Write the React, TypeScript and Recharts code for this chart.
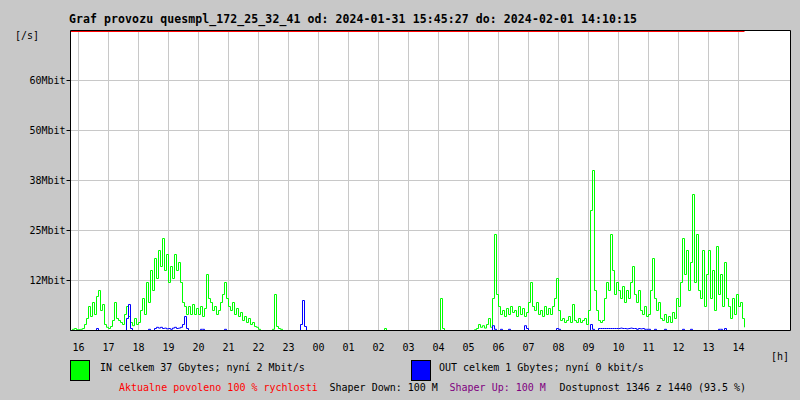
import React from "react";
import {
  LineChart,
  Line,
  XAxis,
  YAxis,
  CartesianGrid,
  ReferenceLine,
} from "recharts";

// one sample every 4 minutes from 15:45:27, values in Mbit/s
const SAMPLE_MINUTES = 4;

const IN_MBIT = [
  0, 0.3, 0.5, 0.2,
  0.2, 0.3, 0.5, 1.5, 3, 6, 3.5, 7, 4, 8.5, 10, 5, 6.5, 1.5, 0.8,
  0.5, 1, 2.5, 7, 3, 2.5, 2, 1.5, 4, 6, 3.5, 2, 1.2, 3, 1.5,
  2, 5, 8, 4, 12, 7, 15, 10, 18, 13, 20, 16, 23, 15, 19,
  12, 16, 13, 19, 15, 17, 12, 7, 6, 4, 6, 4, 6.5, 4, 5.5,
  4, 6, 3.5, 5.5, 14, 8, 7, 5, 6, 4, 5, 7, 9, 12, 8,
  6, 5, 7, 4, 5.5, 3.5, 4.5, 2.5, 3.5, 2, 3, 1.5, 2, 1, 0.8,
  0.3, 0, 0, 0, 0, 0, 0, 0.3, 9, 1, 0.5, 0.3, 0, 0, 0,
  0, 0, 0, 0, 0, 0, 0, 0, 0, 0, 0, 0, 0, 0, 0,
  0, 0, 0, 0, 0, 0, 0, 0, 0, 0, 0, 0, 0, 0, 0,
  0, 0, 0, 0, 0, 0, 0, 0, 0, 0, 0, 0, 0, 0, 0,
  0, 0, 0, 0.5, 0, 0, 0, 0, 0, 0, 0, 0, 0, 0, 0,
  0, 0, 0, 0, 0, 0, 0, 0, 0, 0, 0, 0, 0, 0, 0,
  0, 8, 0.5, 0, 0, 0, 0, 0, 0, 0, 0, 0, 0, 0, 0,
  0, 0, 0, 0.2, 0.5, 1.5, 0.8, 1.2, 0.6, 1.5, 3, 0.8, 8, 24, 9,
  6, 4, 5, 3.5, 5.5, 4, 6, 4.5, 5, 3.5, 6, 4, 5.5, 3.5, 4.5,
  7, 12, 6, 5, 7, 4, 5, 3.5, 6, 4, 5.5, 4, 6, 8, 13,
  5, 2.5, 3, 2, 2.5, 3.5, 2, 6.5, 2.5, 2, 3, 2, 2.5, 3, 1.5,
  5, 30, 40, 10, 5, 2.5, 2, 2.5, 8, 12, 10, 24, 15, 9, 12,
  10, 8, 11, 7, 10, 8, 12, 16, 9, 7, 10, 5, 4, 6, 3.5,
  4, 10, 18, 8, 5, 7, 3, 2.5, 4, 2, 3.5, 2, 4.5, 3, 8,
  6, 12, 23, 14, 20, 10, 17, 34, 12, 24, 10, 8, 20, 6, 14,
  20, 8, 15, 5, 21, 9, 14, 6, 17, 8, 6, 3, 8, 4, 9,
  6, 7, 3, 0.8,
];

const OUT_MBIT = [
  0, 0, 0, 0,
  0, 0, 0, 0, 0, 0, 0, 0, 0, 0.5, 0, 0, 0, 0, 0,
  0, 0, 0, 0, 0, 0, 0, 0, 0, 3, 6.5, 0.5, 0, 0, 0,
  0, 0, 0, 0, 0, 0.3, 0, 0, 0.5, 0.8, 0.6, 0.8, 0.5, 0.6, 0.4,
  0.5, 0.3, 0.6, 0.8, 0.5, 0.6, 0.8, 1.5, 3.5, 0.5, 0, 0, 0, 0, 0,
  0, 0.3, 0.3, 0, 0, 0, 0, 0, 0, 0, 0, 0, 0, 0.3, 0,
  0, 0, 0, 0, 0, 0, 0, 0, 0, 0, 0, 0, 0, 0, 0,
  0, 0, 0, 0, 0, 0, 0, 0, 0, 0, 0, 0, 0, 0, 0,
  0, 0, 0, 0, 0, 0, 1.5, 7.5, 1, 0, 0, 0, 0, 0, 0,
  0, 0, 0, 0, 0, 0, 0, 0, 0, 0, 0, 0, 0, 0, 0,
  0, 0, 0, 0, 0, 0, 0, 0, 0, 0, 0, 0, 0, 0, 0,
  0, 0, 0, 0, 0, 0, 0, 0, 0, 0, 0, 0, 0, 0, 0,
  0, 0, 0, 0, 0, 0, 0, 0, 0, 0, 0, 0, 0, 0, 0,
  0, 0, 0, 0, 0, 0, 0, 0, 0, 0, 0, 0, 0, 0, 0,
  0, 0, 0, 0, 0, 0, 0, 0, 0, 0, 0, 0, 1.2, 0.3, 0,
  0, 0.3, 0, 0, 0, 0.3, 0, 0, 0, 0, 0, 0, 0, 1.2, 0.5,
  0, 0, 0, 0, 0, 0, 0, 0, 0, 0, 0, 0, 0, 0, 0.5,
  0.3, 0, 0, 0, 0, 0, 0, 0, 0, 0, 0, 0, 0, 0, 0,
  0, 1.5, 0.3, 0, 0, 0.5, 0.5, 0.5, 0.5, 0.5, 0.5, 0.5, 0.5, 0.5, 0.5,
  0.5, 0.6, 0.5, 0.5, 0.4, 0.5, 0.6, 0.5, 0.5, 0.3, 0.5, 0.4, 0.5, 0.3, 0.3,
  0.3, 0, 0, 0.3, 0, 0, 0, 0, 0.3, 0, 0, 0, 0, 0, 0,
  0, 0, 0.3, 0, 0, 0, 0.3, 0, 0, 0, 0, 0, 0, 0, 0,
  0, 0, 0, 0, 0, 0.3, 0.3, 0, 0.5, 0, 0, 0, 0, 0, 0,
  0, 0, 0, 0,
];

// minutes after start where each full hour falls
const HOUR_TICKS = [
  16, 76, 136, 196, 256, 316, 376, 436, 496, 556, 616, 676,
  736, 796, 856, 916, 976, 1036, 1096, 1156, 1216, 1276, 1336,
];
const HOUR_LABELS = [
  "16", "17", "18", "19", "20", "21", "22", "23", "00", "01", "02", "03",
  "04", "05", "06", "07", "08", "09", "10", "11", "12", "13", "14",
];

const Y_TICKS = [12.5, 25, 37.5, 50, 62.5];
const Y_LABELS = ["12Mbit", "25Mbit", "38Mbit", "50Mbit", "60Mbit"];

const data = IN_MBIT.map((v, i) => ({
  t: i * SAMPLE_MINUTES,
  in: v,
  out: OUT_MBIT[i],
}));

const FONT = "'DejaVu Sans Mono', monospace";

function HourTick(props: any) {
  const idx = HOUR_TICKS.indexOf(props.payload.value);
  return (
    <text x={props.x} y={350.5} textAnchor="middle" fontFamily={FONT} fontSize={10} fill="#000">
      {HOUR_LABELS[idx]}
    </text>
  );
}

export default function App() {
  return (
    <div style={{ position: "absolute", left: 0, top: 0, width: 800, height: 400, background: "#c8c8c8" }}>
      <LineChart
        width={800}
        height={400}
        data={data}
        margin={{ top: 30.5, right: 9.5, left: 0.5, bottom: 0 }}
      >
        <CartesianGrid stroke="#c8c8c8" fill="#ffffff" fillOpacity={1} />
        <XAxis
          dataKey="t"
          type="number"
          domain={[0, 1440]}
          ticks={HOUR_TICKS}
          interval={0}
          height={69.5}
          tickLine={false}
          axisLine={{ stroke: "#000" }}
          tick={<HourTick />}
        />
        <YAxis
          type="number"
          domain={[0, 75]}
          ticks={Y_TICKS}
          interval={0}
          width={70}
          tickSize={4}
          tickMargin={1}
          tickLine={{ stroke: "#000" }}
          axisLine={{ stroke: "#000" }}
          tickFormatter={(v: number) => Y_LABELS[Y_TICKS.indexOf(v)]}
          tick={{ fontFamily: FONT, fontSize: 10, fill: "#000" }}
        />
        <Line
          dataKey="in"
          type="stepAfter"
          stroke="#00ff00"
          strokeWidth={1}
          dot={false}
          isAnimationActive={false}
        />
        <Line
          dataKey="out"
          type="stepAfter"
          stroke="#0000ff"
          strokeWidth={1}
          dot={false}
          isAnimationActive={false}
        />
        <ReferenceLine y={75} stroke="#000" />
        <ReferenceLine x={1440} stroke="#000" />
        <ReferenceLine
          segment={[{ x: 0, y: 74.75 }, { x: 1348, y: 74.75 }]}
          stroke="#ff0000"
        />
      </LineChart>
      <svg
        width={800}
        height={400}
        style={{ position: "absolute", left: 0, top: 0, pointerEvents: "none" }}
        fontFamily={FONT}
      >
        <text
          x={69}
          y={23}
          fontSize={11.5}
          fontWeight="bold"
          fill="#000"
          textLength={568}
          lengthAdjust="spacing"
        >
          Graf provozu quesmpl_172_25_32_41 od: 2024-01-31 15:45:27 do: 2024-02-01 14:10:15
        </text>
        <text x={15} y={39} fontSize={10} fill="#000">[/s]</text>
        <text x={771} y={360} fontSize={10} fill="#000">[h]</text>
        <rect x={70.5} y={360.5} width={19} height={20} fill="#00ff00" stroke="#000" />
        <text x={100} y={371} fontSize={10} fill="#000">IN celkem 37 Gbytes; nyní 2 Mbit/s</text>
        <rect x={411.5} y={360.5} width={19} height={20} fill="#0000ff" stroke="#000" />
        <text x={439} y={371} fontSize={10} fill="#000">OUT celkem 1 Gbytes; nyní 0 kbit/s</text>
        <text x={119} y={390.5} fontSize={10} fill="#ff0000">Aktualne povoleno 100 % rychlosti</text>
        <text x={329.5} y={390.5} fontSize={10} fill="#000">Shaper Down: 100 M</text>
        <text x={449.5} y={390.5} fontSize={10} fill="#800080">Shaper Up: 100 M</text>
        <text x={559.5} y={390.5} fontSize={10} fill="#000">Dostupnost 1346 z 1440 (93.5 %)</text>
      </svg>
    </div>
  );
}
